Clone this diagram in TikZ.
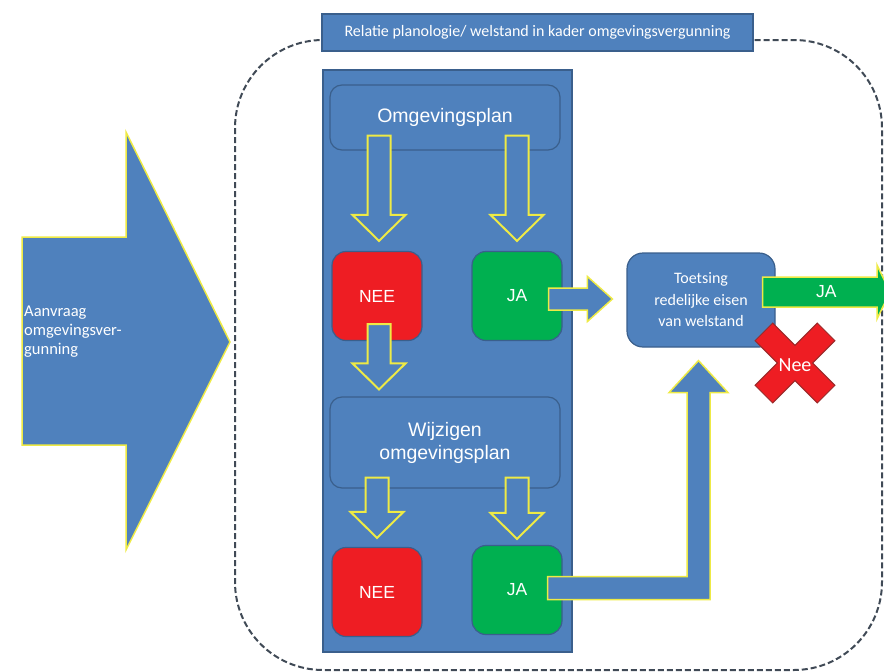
\documentclass[tikz,border=0pt]{standalone}
\usepackage{fontspec}
\setmainfont{Liberation Sans}
\newfontfamily\calibri{Carlito}
\usetikzlibrary{positioning,calc}

\definecolor{vgblue}{HTML}{4F81BD}
\definecolor{vgdark}{HTML}{3A5F8C}
\definecolor{vggreen}{HTML}{00B050}
\definecolor{vgred}{HTML}{EE1D23}
\definecolor{vgdarkred}{HTML}{9A2A2A}
\definecolor{vgyellow}{HTML}{EEEA45}
\definecolor{vggray}{HTML}{404A56}

% hollow block arrow pointing down: #1 start, #2 tip
\newcommand\blockdown[2]{%
  \draw[hollow] let \p1=#1, \p2=#2 in
    (\x1-11.5pt,\y1) -- (\x1+11.5pt,\y1) -- (\x1+11.5pt,\y2+26pt) -- (\x1+26.5pt,\y2+26pt)
    -- (\x1,\y2) -- (\x1-26.5pt,\y2+26pt) -- (\x1-11.5pt,\y2+26pt) -- cycle;}
% block arrow pointing right: style, start, tip, half shaft, half head, head length
\newcommand\blockright[6]{%
  \draw[#1] let \p1=#2, \p2=#3 in
    (\x1,\y1+#4) -- (\x2-#6,\y1+#4) -- (\x2-#6,\y1+#5) -- (\x2,\y1)
    -- (\x2-#6,\y1-#5) -- (\x2-#6,\y1-#4) -- (\x1,\y1-#4) -- cycle;}

\begin{document}
\begin{tikzpicture}[x=1pt, y=1pt,
  txt/.style={text=white, inner sep=0pt},
  box/.style={draw=vgdark, line width=1.2pt, fill=vgblue},
  planbox/.style={box, rounded corners=12pt, minimum width=230pt, txt, font=\fontsize{19.5}{23}\selectfont, align=center},
  answer/.style={draw=vgdark, line width=1.2pt, rounded corners=14pt, minimum width=90pt, minimum height=89pt, txt, font=\fontsize{17.5}{20}\selectfont},
  hollow/.style={fill=vgblue, draw=vgyellow, line width=2pt},
  solid/.style={fill=vgblue, draw=vgyellow, line width=1.5pt},
  greenarrow/.style={fill=vggreen, draw=vgyellow, line width=1.5pt}]
  \useasboundingbox (0,0) rectangle (884,-672);

  % frame
  \draw[vggray, line width=2pt, dash pattern=on 6pt off 3pt, rounded corners=88pt] (235,-40) rectangle (882,-670);
  \node[box, minimum width=431pt, minimum height=37pt, txt, font=\calibri\fontsize{16}{19}\selectfont]
    (title) at (537.5,-32.5) {Relatie planologie/ welstand in kader omgevingsvergunning};

  % request
  \draw[solid] (22,-237) -- (126,-237) -- (126,-132) -- (230,-342) -- (126,-550) -- (126,-445) -- (22,-445) -- cycle;
  \node[txt, align=left, anchor=west, font=\calibri\fontsize{16.5}{19}\selectfont]
    (aanvraag) at (24,-332) {Aanvraag\\omgevingsver-\\gunning};

  % plan column
  \node[box, minimum width=249pt, minimum height=582pt] (panel) at (447.5,-361) {};
  \node[planbox, minimum height=65pt] (plan) at (445,-117.5) {\raisebox{3pt}{Omgevingsplan}};
  \node[planbox, minimum height=91pt] (change) at (445,-442.5) {Wijzigen\\omgevingsplan};
  \node[answer, fill=vgred] (nee1) at (377,-296) {NEE};
  \node[answer, fill=vggreen] (ja1) at (517,-296) {JA};
  \node[answer, fill=vgred] (nee2) at (377,-592) {NEE};
  \node[answer, fill=vggreen] (ja2) at (517,-590) {JA};

  \blockdown{([xshift=2pt,yshift=15pt]plan.south -| nee1)}{([xshift=2pt,yshift=10pt]nee1.north)}
  \blockdown{([yshift=15pt]plan.south -| ja1)}{([yshift=10pt]ja1.north)}
  \blockdown{([xshift=2pt,yshift=17pt]nee1.south)}{([xshift=2pt,yshift=7pt]change.north -| nee1)}
  \blockdown{([yshift=11pt]change.south -| nee2)}{([yshift=9pt]nee2.north)}
  \blockdown{([yshift=11pt]change.south -| ja2)}{([yshift=6pt]ja2.north)}

  % test
  \node[box, rounded corners=16pt, minimum width=148pt, minimum height=94pt, txt, align=center,
    font=\calibri\fontsize{16}{21.5}\selectfont] (test) at (701,-300) {Toetsing\\redelijke eisen\\van welstand};

  \blockright{solid}{([xshift=-14pt,yshift=-3pt]ja1.east)}{([xshift=-14pt,yshift=-3pt]test.west)}{11pt}{22.5pt}{25pt}
  \draw[solid] let \p1=([xshift=-15pt,yshift=2pt]ja2.east), \p2=([xshift=-2.5pt,yshift=-13pt]test.south) in
    (\x1,\y1+11.5pt) -- (\x2-11.5pt,\y1+11.5pt) -- (\x2-11.5pt,\y2-32pt) -- (\x2-29.5pt,\y2-32pt)
    -- (\x2,\y2) -- (\x2+29.5pt,\y2-32pt) -- (\x2+11.5pt,\y2-32pt) -- (\x2+11.5pt,\y1-11.5pt)
    -- (\x1,\y1-11.5pt) -- cycle;

  % outcome
  \coordinate (exitstart) at ([xshift=-13pt,yshift=8pt]test.east);
  \coordinate (exit) at (890,-292);
  \blockright{greenarrow}{(exitstart)}{(exit)}{15pt}{27pt}{13pt}
  \node[txt, font=\fontsize{17.5}{20}\selectfont] (exitja) at ($(exitstart)!0.5!(exit)$) {JA};

  \begin{scope}[shift={(795,-363)}, rotate=45]
    \draw[fill=vgred, draw=vgdarkred, line width=1pt]
      (-12.5,44) -- (12.5,44) -- (12.5,12.5) -- (44,12.5) -- (44,-12.5) -- (12.5,-12.5)
      -- (12.5,-44) -- (-12.5,-44) -- (-12.5,-12.5) -- (-44,-12.5) -- (-44,12.5) -- (-12.5,12.5) -- cycle;
  \end{scope}
  \node[txt, font=\calibri\fontsize{20}{24}\selectfont] (nee) at (795,-365) {Nee};
\end{tikzpicture}
\end{document}
